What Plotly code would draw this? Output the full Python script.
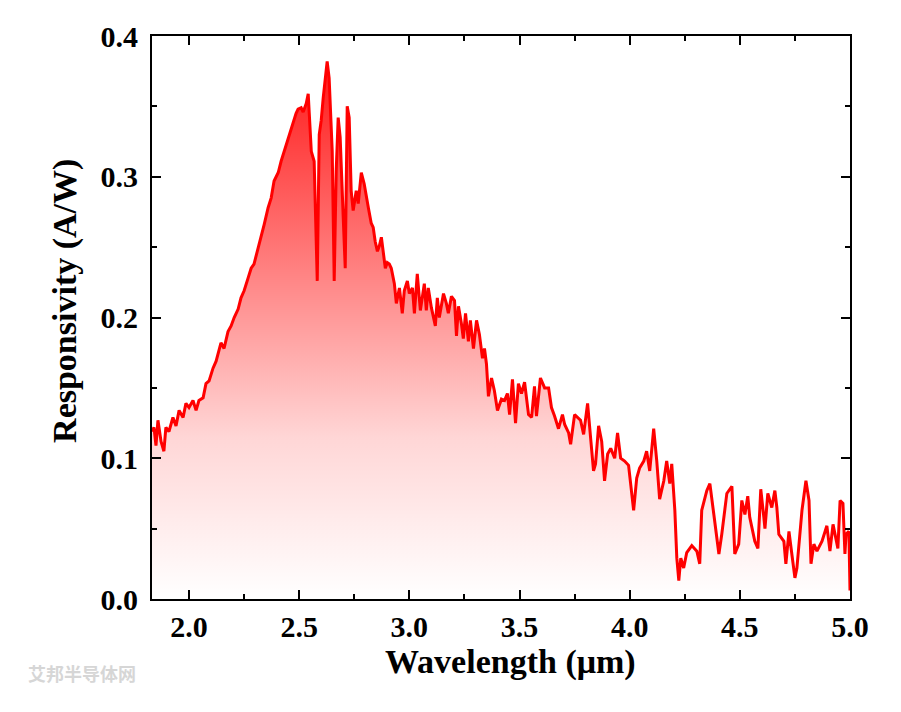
import plotly.graph_objects as go

wavelength = [1.832, 1.841, 1.850, 1.859, 1.873, 1.886, 1.895, 1.909, 1.927, 1.941, 1.955, 1.973, 1.986, 2.000,
              2.018, 2.032, 2.045, 2.064, 2.077, 2.091, 2.109, 2.123, 2.145, 2.159, 2.177, 2.191, 2.205, 2.223,
              2.236, 2.250, 2.268, 2.282, 2.295, 2.314, 2.327, 2.341, 2.359, 2.373, 2.386, 2.405, 2.418, 2.432,
              2.450, 2.464, 2.473, 2.486, 2.495, 2.509, 2.518, 2.532, 2.541, 2.550, 2.555, 2.568, 2.582, 2.591,
              2.600, 2.609, 2.618, 2.627, 2.636, 2.645, 2.650, 2.659, 2.668, 2.677, 2.686, 2.700, 2.709, 2.718,
              2.727, 2.736, 2.745, 2.759, 2.768, 2.782, 2.795, 2.814, 2.827, 2.836, 2.845, 2.855, 2.864, 2.873,
              2.882, 2.891, 2.900, 2.909, 2.918, 2.932, 2.941, 2.955, 2.968, 2.977, 2.991, 3.000, 3.014, 3.023,
              3.036, 3.050, 3.068, 3.077, 3.086, 3.100, 3.118, 3.127, 3.136, 3.155, 3.168, 3.177, 3.191, 3.205,
              3.214, 3.223, 3.236, 3.245, 3.255, 3.268, 3.277, 3.291, 3.305, 3.318, 3.332, 3.341, 3.350, 3.359,
              3.373, 3.386, 3.400, 3.418, 3.432, 3.445, 3.455, 3.468, 3.482, 3.495, 3.509, 3.523, 3.541, 3.555,
              3.568, 3.577, 3.595, 3.614, 3.632, 3.645, 3.659, 3.677, 3.695, 3.705, 3.723, 3.732, 3.750, 3.764,
              3.777, 3.791, 3.809, 3.823, 3.836, 3.845, 3.859, 3.873, 3.886, 3.900, 3.914, 3.932, 3.945, 3.959,
              3.977, 3.995, 4.005, 4.018, 4.032, 4.045, 4.064, 4.077, 4.091, 4.109, 4.123, 4.136, 4.155, 4.168,
              4.182, 4.191, 4.205, 4.214, 4.223, 4.232, 4.245, 4.259, 4.282, 4.305, 4.318, 4.327, 4.350, 4.364,
              4.382, 4.395, 4.405, 4.418, 4.441, 4.464, 4.477, 4.495, 4.509, 4.523, 4.536, 4.545, 4.568, 4.582,
              4.595, 4.609, 4.614, 4.627, 4.645, 4.659, 4.668, 4.677, 4.700, 4.709, 4.723, 4.736, 4.750, 4.759,
              4.782, 4.800, 4.814, 4.823, 4.836, 4.850, 4.873, 4.895, 4.909, 4.923, 4.932, 4.945, 4.955, 4.968,
              4.977, 4.982, 4.995, 5.000]

responsivity = [0.119, 0.122, 0.109, 0.127, 0.112, 0.105, 0.122, 0.119, 0.129, 0.123, 0.134, 0.129, 0.139, 0.136,
                0.141, 0.134, 0.141, 0.143, 0.153, 0.155, 0.164, 0.169, 0.182, 0.178, 0.190, 0.194, 0.200, 0.206,
                0.214, 0.219, 0.228, 0.235, 0.238, 0.249, 0.257, 0.266, 0.278, 0.285, 0.297, 0.303, 0.311, 0.318,
                0.328, 0.334, 0.340, 0.345, 0.348, 0.349, 0.346, 0.352, 0.359, 0.336, 0.318, 0.311, 0.226, 0.330,
                0.340, 0.356, 0.372, 0.382, 0.370, 0.340, 0.318, 0.226, 0.304, 0.342, 0.328, 0.271, 0.235, 0.350,
                0.342, 0.290, 0.276, 0.290, 0.281, 0.303, 0.295, 0.278, 0.267, 0.264, 0.254, 0.247, 0.251, 0.257,
                0.244, 0.235, 0.239, 0.238, 0.235, 0.224, 0.210, 0.221, 0.203, 0.219, 0.226, 0.217, 0.221, 0.203,
                0.231, 0.205, 0.224, 0.205, 0.221, 0.207, 0.194, 0.214, 0.200, 0.217, 0.210, 0.203, 0.215, 0.212,
                0.187, 0.208, 0.196, 0.185, 0.203, 0.183, 0.198, 0.178, 0.198, 0.188, 0.171, 0.178, 0.167, 0.144,
                0.157, 0.148, 0.134, 0.142, 0.141, 0.146, 0.131, 0.156, 0.125, 0.153, 0.146, 0.154, 0.131, 0.129,
                0.151, 0.130, 0.157, 0.150, 0.150, 0.136, 0.130, 0.121, 0.131, 0.124, 0.118, 0.110, 0.131, 0.129,
                0.127, 0.117, 0.139, 0.114, 0.091, 0.096, 0.123, 0.112, 0.084, 0.103, 0.107, 0.100, 0.118, 0.100,
                0.098, 0.095, 0.080, 0.063, 0.086, 0.093, 0.098, 0.105, 0.091, 0.121, 0.098, 0.071, 0.084, 0.098,
                0.082, 0.096, 0.063, 0.029, 0.013, 0.029, 0.022, 0.033, 0.038, 0.034, 0.025, 0.063, 0.077, 0.082,
                0.060, 0.046, 0.032, 0.046, 0.075, 0.080, 0.032, 0.039, 0.070, 0.060, 0.073, 0.058, 0.041, 0.036,
                0.078, 0.058, 0.050, 0.075, 0.065, 0.077, 0.065, 0.046, 0.041, 0.025, 0.048, 0.032, 0.015, 0.022,
                0.063, 0.084, 0.070, 0.025, 0.039, 0.034, 0.041, 0.052, 0.034, 0.053, 0.046, 0.036, 0.070, 0.068,
                0.032, 0.046, 0.048, 0.006]

x_ticks = [2.0, 2.5, 3.0, 3.5, 4.0, 4.5, 5.0]
y_ticks = [0.0, 0.1, 0.2, 0.3, 0.4]

SERIF = "Liberation Serif"

fig = go.Figure()
fig.add_trace(go.Scatter(
    x=wavelength, y=responsivity, mode="lines",
    line=dict(color="#ff0000", width=3),
    fill="tozeroy",
    fillgradient=dict(type="vertical",
                      colorscale=[[0, "rgba(255,0,0,0.0)"], [0.3, "rgba(255,0,0,0.16)"], [1, "rgba(255,0,0,0.9)"]],
                      start=0, stop=0.38),
    showlegend=False, hoverinfo="skip",
))

axis_common = dict(
    showline=True, linewidth=2, linecolor="black", mirror="ticks",
    ticks="inside", ticklen=9, tickwidth=2, tickcolor="black",
    showgrid=False, zeroline=False,
    tickfont=dict(family=SERIF, size=30, color="black", weight="bold"),
)

fig.update_xaxes(
    range=[1.832, 5.0], tickvals=x_ticks, ticktext=[f"{v:.1f}" for v in x_ticks],
    minor=dict(ticks="inside", ticklen=5, tickwidth=2, tickcolor="black", dtick=0.25, tick0=2.0, showgrid=False),
    **axis_common,
)
fig.update_yaxes(
    range=[0, 0.4], tickvals=y_ticks, ticktext=[f"{v:.1f}" for v in y_ticks],
    minor=dict(ticks="inside", ticklen=5, tickwidth=2, tickcolor="black", dtick=0.05, tick0=0, showgrid=False),
    ticklabelstandoff=6,
    **axis_common,
)

title_font = dict(family=SERIF, size=34, color="black", weight="bold")

# axis titles as annotations (they sit slightly off-centre in the original)
fig.add_annotation(
    text="Wavelength (μm)", xref="paper", yref="paper", x=0.514, y=-0.112,
    xanchor="center", yanchor="middle", showarrow=False, font=title_font,
)
fig.add_annotation(
    text="Responsivity (A/W)", xref="paper", yref="paper", x=-0.125, y=0.529,
    xanchor="center", yanchor="middle", textangle=-90, showarrow=False, font=title_font,
)

fig.add_annotation(
    text="艾邦半导体网", xref="paper", yref="paper", x=-0.18, y=-0.132,
    xanchor="left", yanchor="middle", showarrow=False,
    font=dict(family="Noto Sans CJK SC", size=18, color="#d6d6d6", weight="bold"),
)

fig.update_layout(
    width=901, height=712,
    margin=dict(l=144, r=59, t=28, b=121),
    paper_bgcolor="white", plot_bgcolor="white",
)

fig.write_html("out.html")
